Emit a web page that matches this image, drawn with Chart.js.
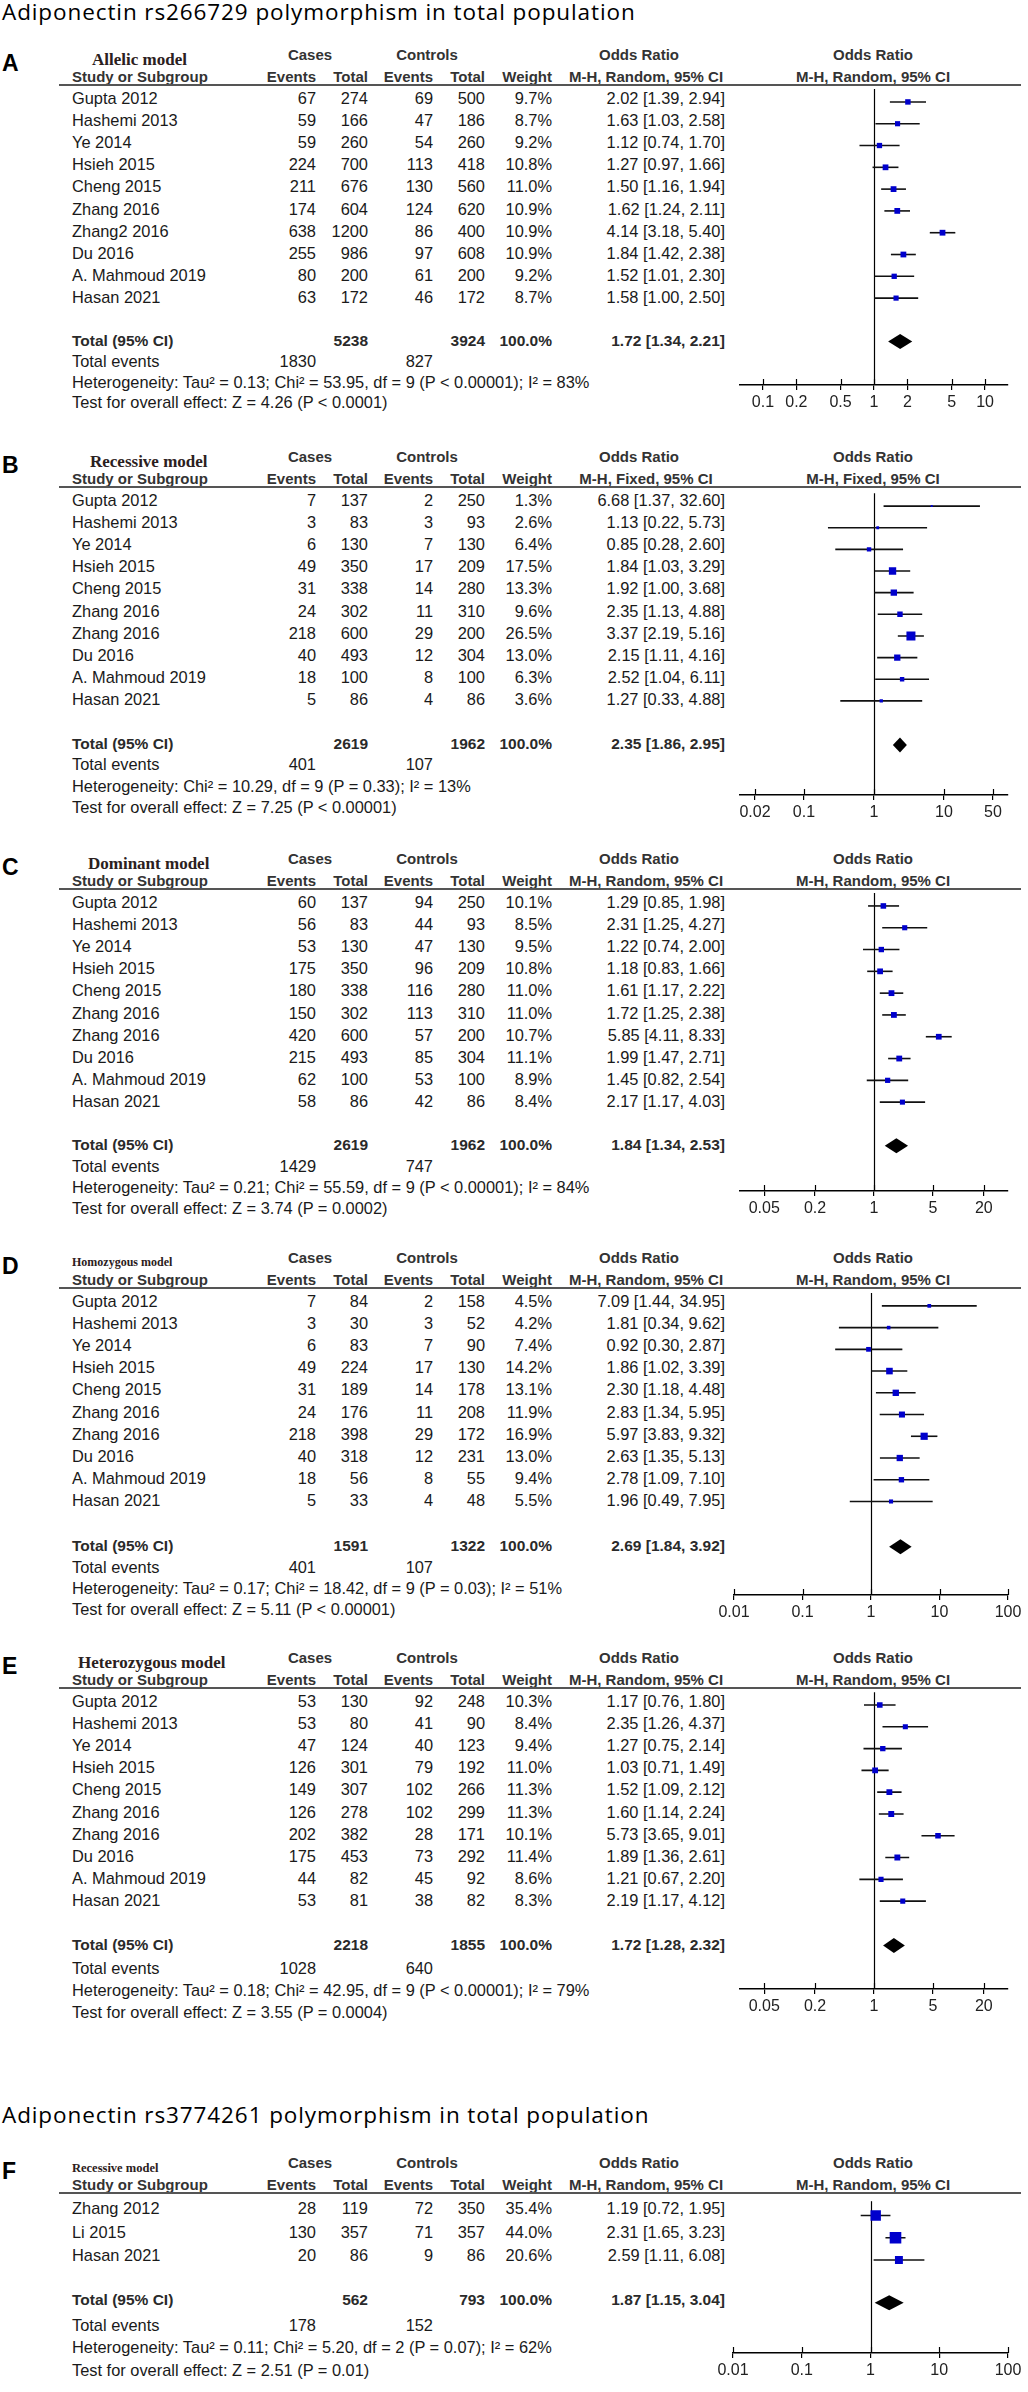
<!DOCTYPE html>
<html>
<head>
<meta charset="utf-8">
<script src="https://cdn.jsdelivr.net/npm/chart.js@4.4.1/dist/chart.umd.min.js"></script>
<style>
    html, body { margin: 0; padding: 0; background: #fff; }
    body { width: 1028px; height: 2392px; position: relative; overflow: hidden;
           font-family: "Liberation Sans", Arial, sans-serif; color: #1a1a1a; }
    .t { position: absolute; white-space: pre; line-height: 1.15; transform: translateY(-50%); }
    .r { text-align: right; width: 300px; }
    .c { text-align: center; width: 300px; }
    .h { font-weight: bold; font-size: 15px; color: #333; }
    .d { font-size: 16.4px; }
    .b { font-weight: bold; font-size: 15.5px; color: #2a2a2a; }
    .title { font-family: "Open Sans", sans-serif; font-size: 22.5px; letter-spacing: 0.9px; color: #000; }
    .letter { font-weight: bold; font-size: 23px; color: #000; }
    .model { font-family: "Liberation Serif", serif; font-weight: bold; color: #2b2020; }
    .rule { position: absolute; left: 59px; width: 962px; height: 2px; background: #555; }
    canvas.plot { position: absolute; left: 700px; }
</style>
</head>
<body>
<script>
// study labels
const studiesA = ["Gupta 2012", "Hashemi 2013", "Ye 2014", "Hsieh 2015", "Cheng 2015", "Zhang 2016", "Zhang2 2016", "Du 2016", "A. Mahmoud 2019", "Hasan 2021"];
const studiesBE = ["Gupta 2012", "Hashemi 2013", "Ye 2014", "Hsieh 2015", "Cheng 2015", "Zhang 2016", "Zhang 2016", "Du 2016", "A. Mahmoud 2019", "Hasan 2021"];
const studiesF = ["Zhang 2012", "Li 2015", "Hasan 2021"];

// A - allelic model
const aCaseEvents = [67, 59, 59, 224, 211, 174, 638, 255, 80, 63];
const aCaseTotal = [274, 166, 260, 700, 676, 604, 1200, 986, 200, 172];
const aCtrlEvents = [69, 47, 54, 113, 130, 124, 86, 97, 61, 46];
const aCtrlTotal = [500, 186, 260, 418, 560, 620, 400, 608, 200, 172];
const aWeight = [9.7, 8.7, 9.2, 10.8, 11.0, 10.9, 10.9, 10.9, 9.2, 8.7];
const aOR = [2.02, 1.63, 1.12, 1.27, 1.50, 1.62, 4.14, 1.84, 1.52, 1.58];
const aLow = [1.39, 1.03, 0.74, 0.97, 1.16, 1.24, 3.18, 1.42, 1.01, 1.00];
const aHigh = [2.94, 2.58, 1.70, 1.66, 1.94, 2.11, 5.40, 2.38, 2.30, 2.50];
const aTotals = [5238, 3924, 1830, 827];
const aPooled = [1.72, 1.34, 2.21];
const aTicks = [0.1, 0.2, 0.5, 1, 2, 5, 10];
const aHet = "Heterogeneity: Tau\u00b2 = 0.13; Chi\u00b2 = 53.95, df = 9 (P < 0.00001); I\u00b2 = 83%";
const aTest = "Test for overall effect: Z = 4.26 (P < 0.0001)";

// B - recessive model
const bCaseEvents = [7, 3, 6, 49, 31, 24, 218, 40, 18, 5];
const bCaseTotal = [137, 83, 130, 350, 338, 302, 600, 493, 100, 86];
const bCtrlEvents = [2, 3, 7, 17, 14, 11, 29, 12, 8, 4];
const bCtrlTotal = [250, 93, 130, 209, 280, 310, 200, 304, 100, 86];
const bWeight = [1.3, 2.6, 6.4, 17.5, 13.3, 9.6, 26.5, 13.0, 6.3, 3.6];
const bOR = [6.68, 1.13, 0.85, 1.84, 1.92, 2.35, 3.37, 2.15, 2.52, 1.27];
const bLow = [1.37, 0.22, 0.28, 1.03, 1.00, 1.13, 2.19, 1.11, 1.04, 0.33];
const bHigh = [32.60, 5.73, 2.60, 3.29, 3.68, 4.88, 5.16, 4.16, 6.11, 4.88];
const bTotals = [2619, 1962, 401, 107];
const bPooled = [2.35, 1.86, 2.95];
const bTicks = [0.02, 0.1, 1, 10, 50];
const bHet = "Heterogeneity: Chi\u00b2 = 10.29, df = 9 (P = 0.33); I\u00b2 = 13%";
const bTest = "Test for overall effect: Z = 7.25 (P < 0.00001)";

// C - dominant model
const cCaseEvents = [60, 56, 53, 175, 180, 150, 420, 215, 62, 58];
const cCaseTotal = [137, 83, 130, 350, 338, 302, 600, 493, 100, 86];
const cCtrlEvents = [94, 44, 47, 96, 116, 113, 57, 85, 53, 42];
const cCtrlTotal = [250, 93, 130, 209, 280, 310, 200, 304, 100, 86];
const cWeight = [10.1, 8.5, 9.5, 10.8, 11.0, 11.0, 10.7, 11.1, 8.9, 8.4];
const cOR = [1.29, 2.31, 1.22, 1.18, 1.61, 1.72, 5.85, 1.99, 1.45, 2.17];
const cLow = [0.85, 1.25, 0.74, 0.83, 1.17, 1.25, 4.11, 1.47, 0.82, 1.17];
const cHigh = [1.98, 4.27, 2.00, 1.66, 2.22, 2.38, 8.33, 2.71, 2.54, 4.03];
const cTotals = [2619, 1962, 1429, 747];
const cPooled = [1.84, 1.34, 2.53];
const cTicks = [0.05, 0.2, 1, 5, 20];
const cHet = "Heterogeneity: Tau\u00b2 = 0.21; Chi\u00b2 = 55.59, df = 9 (P < 0.00001); I\u00b2 = 84%";
const cTest = "Test for overall effect: Z = 3.74 (P = 0.0002)";

// D - homozygous model
const dCaseEvents = [7, 3, 6, 49, 31, 24, 218, 40, 18, 5];
const dCaseTotal = [84, 30, 83, 224, 189, 176, 398, 318, 56, 33];
const dCtrlEvents = [2, 3, 7, 17, 14, 11, 29, 12, 8, 4];
const dCtrlTotal = [158, 52, 90, 130, 178, 208, 172, 231, 55, 48];
const dWeight = [4.5, 4.2, 7.4, 14.2, 13.1, 11.9, 16.9, 13.0, 9.4, 5.5];
const dOR = [7.09, 1.81, 0.92, 1.86, 2.30, 2.83, 5.97, 2.63, 2.78, 1.96];
const dLow = [1.44, 0.34, 0.30, 1.02, 1.18, 1.34, 3.83, 1.35, 1.09, 0.49];
const dHigh = [34.95, 9.62, 2.87, 3.39, 4.48, 5.95, 9.32, 5.13, 7.10, 7.95];
const dTotals = [1591, 1322, 401, 107];
const dPooled = [2.69, 1.84, 3.92];
const dTicks = [0.01, 0.1, 1, 10, 100];
const dHet = "Heterogeneity: Tau\u00b2 = 0.17; Chi\u00b2 = 18.42, df = 9 (P = 0.03); I\u00b2 = 51%";
const dTest = "Test for overall effect: Z = 5.11 (P < 0.00001)";

// E - heterozygous model
const eCaseEvents = [53, 53, 47, 126, 149, 126, 202, 175, 44, 53];
const eCaseTotal = [130, 80, 124, 301, 307, 278, 382, 453, 82, 81];
const eCtrlEvents = [92, 41, 40, 79, 102, 102, 28, 73, 45, 38];
const eCtrlTotal = [248, 90, 123, 192, 266, 299, 171, 292, 92, 82];
const eWeight = [10.3, 8.4, 9.4, 11.0, 11.3, 11.3, 10.1, 11.4, 8.6, 8.3];
const eOR = [1.17, 2.35, 1.27, 1.03, 1.52, 1.60, 5.73, 1.89, 1.21, 2.19];
const eLow = [0.76, 1.26, 0.75, 0.71, 1.09, 1.14, 3.65, 1.36, 0.67, 1.17];
const eHigh = [1.80, 4.37, 2.14, 1.49, 2.12, 2.24, 9.01, 2.61, 2.20, 4.12];
const eTotals = [2218, 1855, 1028, 640];
const ePooled = [1.72, 1.28, 2.32];
const eTicks = [0.05, 0.2, 1, 5, 20];
const eHet = "Heterogeneity: Tau\u00b2 = 0.18; Chi\u00b2 = 42.95, df = 9 (P < 0.00001); I\u00b2 = 79%";
const eTest = "Test for overall effect: Z = 3.55 (P = 0.0004)";

// F - rs3774261 recessive model
const fCaseEvents = [28, 130, 20];
const fCaseTotal = [119, 357, 86];
const fCtrlEvents = [72, 71, 9];
const fCtrlTotal = [350, 357, 86];
const fWeight = [35.4, 44.0, 20.6];
const fOR = [1.19, 2.31, 2.59];
const fLow = [0.72, 1.65, 1.11];
const fHigh = [1.95, 3.23, 6.08];
const fTotals = [562, 793, 178, 152];
const fPooled = [1.87, 1.15, 3.04];
const fTicks = [0.01, 0.1, 1, 10, 100];
const fHet = "Heterogeneity: Tau\u00b2 = 0.11; Chi\u00b2 = 5.20, df = 2 (P = 0.07); I\u00b2 = 62%";
const fTest = "Test for overall effect: Z = 2.51 (P = 0.01)";

const titles = [
    "Adiponectin rs266729 polymorphism in total population",
    "Adiponectin rs3774261 polymorphism in total population",
];

const panels = [
    { letter: "A", model: "Allelic model", method: "Random", studies: studiesA, ce: aCaseEvents, ct: aCaseTotal, ke: aCtrlEvents, kt: aCtrlTotal, w: aWeight, or: aOR, lo: aLow, hi: aHigh, totals: aTotals, pooled: aPooled, ticks: aTicks, het: aHet, test: aTest },
    { letter: "B", model: "Recessive model", method: "Fixed", studies: studiesBE, ce: bCaseEvents, ct: bCaseTotal, ke: bCtrlEvents, kt: bCtrlTotal, w: bWeight, or: bOR, lo: bLow, hi: bHigh, totals: bTotals, pooled: bPooled, ticks: bTicks, het: bHet, test: bTest },
    { letter: "C", model: "Dominant model", method: "Random", studies: studiesBE, ce: cCaseEvents, ct: cCaseTotal, ke: cCtrlEvents, kt: cCtrlTotal, w: cWeight, or: cOR, lo: cLow, hi: cHigh, totals: cTotals, pooled: cPooled, ticks: cTicks, het: cHet, test: cTest },
    { letter: "D", model: "Homozygous model", method: "Random", studies: studiesBE, ce: dCaseEvents, ct: dCaseTotal, ke: dCtrlEvents, kt: dCtrlTotal, w: dWeight, or: dOR, lo: dLow, hi: dHigh, totals: dTotals, pooled: dPooled, ticks: dTicks, het: dHet, test: dTest },
    { letter: "E", model: "Heterozygous model", method: "Random", studies: studiesBE, ce: eCaseEvents, ct: eCaseTotal, ke: eCtrlEvents, kt: eCtrlTotal, w: eWeight, or: eOR, lo: eLow, hi: eHigh, totals: eTotals, pooled: ePooled, ticks: eTicks, het: eHet, test: eTest },
    { letter: "F", model: "Recessive model", method: "Random", studies: studiesF, ce: fCaseEvents, ct: fCaseTotal, ke: fCtrlEvents, kt: fCtrlTotal, w: fWeight, or: fOR, lo: fLow, hi: fHigh, totals: fTotals, pooled: fPooled, ticks: fTicks, het: fHet, test: fTest },
];

// page geometry, one entry per panel
const layouts = [
    { L: 85, row0: 98, step: 22.1, totalY: 341, eventsY: 361, hetY: 382, testY: 402, axisY: 385, left: 740, right: 1008, min: 0.0621, max: 16.1, modelX: 92, modelSize: 17 },
    { L: 487, row0: 500, step: 22.1, totalY: 744, eventsY: 764, hetY: 786, testY: 807, axisY: 795, left: 740, right: 1008, min: 0.0122, max: 82, modelX: 90, modelSize: 17 },
    { L: 889, row0: 902, step: 22.1, totalY: 1145, eventsY: 1166, hetY: 1187, testY: 1208, axisY: 1191, left: 740, right: 1008, min: 0.0258, max: 38.7, modelX: 88, modelSize: 17 },
    { L: 1288, row0: 1301, step: 22.1, totalY: 1546, eventsY: 1567, hetY: 1588, testY: 1609, axisY: 1595, left: 734, right: 1008, min: 0.01, max: 100, modelX: 72, modelSize: 12 },
    { L: 1688, row0: 1701, step: 22.1, totalY: 1945, eventsY: 1968, hetY: 1990, testY: 2012, axisY: 1989, left: 740, right: 1008, min: 0.0258, max: 38.7, modelX: 78, modelSize: 17 },
    { L: 2193, row0: 2208, step: 23.5, totalY: 2300, eventsY: 2325, hetY: 2347, testY: 2370, axisY: 2353, left: 733, right: 1008, min: 0.01, max: 100, modelX: 72, modelSize: 12.5 },
];
const titleY = [12, 2115];

function txt(str, x, y, cls, align) {
    const el = document.createElement("div");
    el.className = "t " + cls + (align === "r" ? " r" : align === "c" ? " c" : "");
    el.textContent = str;
    const left = align === "r" ? x - 300 : align === "c" ? x - 150 : x;
    el.style.left = left + "px";
    el.style.top = y + "px";
    document.body.appendChild(el);
    return el;
}

const fmt = (v) => v.toFixed(2);
const ciText = (o, l, h) => `${fmt(o)} [${fmt(l)}, ${fmt(h)}]`;

titles.forEach((t, i) => txt(t, 2, titleY[i], "title"));

function makeForest(p, lay) {
    const totalRow = (lay.totalY - lay.row0) / lay.step;
    return {
        id: "forest",
        beforeDatasetsDraw(chart) {
            const { ctx, chartArea: a, scales: { x, y } } = chart;
            ctx.save();
            // line of no effect
            const x1 = Math.round(x.getPixelForValue(1)) + 0.5;
            ctx.strokeStyle = "#000";
            ctx.lineWidth = 1.2;
            ctx.beginPath();
            ctx.moveTo(x1, a.top);
            ctx.lineTo(x1, a.bottom);
            ctx.stroke();

            ctx.beginPath();
            ctx.rect(a.left, a.top, a.width, a.height);
            ctx.clip();
            ctx.strokeStyle = "#111";
            ctx.lineWidth = 1.6;
            p.lo.forEach((lo, i) => {
                const yy = y.getPixelForValue(i);
                ctx.beginPath();
                ctx.moveTo(x.getPixelForValue(lo), yy);
                ctx.lineTo(x.getPixelForValue(p.hi[i]), yy);
                ctx.stroke();
            });

            // pooled estimate diamond
            const [or, lo, hi] = p.pooled;
            const yd = y.getPixelForValue(totalRow);
            ctx.fillStyle = "#000";
            ctx.beginPath();
            ctx.moveTo(x.getPixelForValue(lo), yd);
            ctx.lineTo(x.getPixelForValue(or), yd - 7.5);
            ctx.lineTo(x.getPixelForValue(hi), yd);
            ctx.lineTo(x.getPixelForValue(or), yd + 7.5);
            ctx.closePath();
            ctx.fill();
            ctx.restore();
        },
        afterDraw(chart) {
            // upper half of the crossing tick marks
            const { ctx, chartArea: a, scales: { x } } = chart;
            ctx.save();
            ctx.strokeStyle = "#000";
            ctx.lineWidth = 1.2;
            x.ticks.forEach((t) => {
                const px = Math.round(x.getPixelForValue(t.value)) + 0.5;
                ctx.beginPath();
                ctx.moveTo(px, a.bottom - 6);
                ctx.lineTo(px, a.bottom);
                ctx.stroke();
            });
            ctx.restore();
        },
    };
}

panels.forEach((p, k) => {
    const lay = layouts[k];
    const L = lay.L;

    txt(p.letter, 2, L - 22, "letter");
    const m = txt(p.model, lay.modelX, L - 25, "model");
    m.style.fontSize = lay.modelSize + "px";

    txt("Cases", 310, L - 30, "h", "c");
    txt("Controls", 427, L - 30, "h", "c");
    txt("Odds Ratio", 639, L - 30, "h", "c");
    txt("Odds Ratio", 873, L - 30, "h", "c");

    const sub = L - 8;
    txt("Study or Subgroup", 72, sub, "h");
    txt("Events", 316, sub, "h", "r");
    txt("Total", 368, sub, "h", "r");
    txt("Events", 433, sub, "h", "r");
    txt("Total", 485, sub, "h", "r");
    txt("Weight", 552, sub, "h", "r");
    txt(`M-H, ${p.method}, 95% CI`, 646, sub, "h", "c");
    txt(`M-H, ${p.method}, 95% CI`, 873, sub, "h", "c");

    const rule = document.createElement("div");
    rule.className = "rule";
    rule.style.top = (L - 1) + "px";
    document.body.appendChild(rule);

    p.studies.forEach((s, i) => {
        const y = lay.row0 + i * lay.step;
        txt(s, 72, y, "d");
        txt(String(p.ce[i]), 316, y, "d", "r");
        txt(String(p.ct[i]), 368, y, "d", "r");
        txt(String(p.ke[i]), 433, y, "d", "r");
        txt(String(p.kt[i]), 485, y, "d", "r");
        txt(p.w[i].toFixed(1) + "%", 552, y, "d", "r");
        txt(ciText(p.or[i], p.lo[i], p.hi[i]), 725, y, "d", "r");
    });

    txt("Total (95% CI)", 72, lay.totalY, "b");
    txt(String(p.totals[0]), 368, lay.totalY, "b", "r");
    txt(String(p.totals[1]), 485, lay.totalY, "b", "r");
    txt("100.0%", 552, lay.totalY, "b", "r");
    txt(ciText(...p.pooled), 725, lay.totalY, "b", "r");

    txt("Total events", 72, lay.eventsY, "d");
    txt(String(p.totals[2]), 316, lay.eventsY, "d", "r");
    txt(String(p.totals[3]), 433, lay.eventsY, "d", "r");
    txt(p.het, 72, lay.hetY, "d");
    txt(p.test, 72, lay.testY, "d");

    // forest plot
    const axisH = 28;
    const cw = 325;
    const ch = lay.axisY - L + axisH;
    const canvas = document.createElement("canvas");
    canvas.className = "plot";
    canvas.width = cw;
    canvas.height = ch;
    canvas.style.width = cw + "px";
    canvas.style.height = ch + "px";
    canvas.style.top = L + "px";
    document.body.appendChild(canvas);

    const yMin = -(lay.row0 - L) / lay.step;
    const yMax = (lay.axisY - lay.row0) / lay.step;
    const radii = p.w.map((w) => (1.75 * Math.sqrt(w)) / Math.SQRT2);

    new Chart(canvas, {
        type: "scatter",
        data: {
            datasets: [
                {
                    data: p.or.map((v, i) => ({ x: v, y: i })),
                    pointStyle: "rect",
                    pointRadius: radii,
                    pointHoverRadius: radii,
                    backgroundColor: "#0000cc",
                    borderWidth: 0,
                },
            ],
        },
        options: {
            responsive: false,
            animation: false,
            events: [],
            layout: { padding: { left: lay.left - 700, right: 700 + cw - lay.right, top: 0, bottom: 0 } },
            plugins: { legend: { display: false }, tooltip: { enabled: false } },
            scales: {
                x: {
                    type: "logarithmic",
                    min: lay.min,
                    max: lay.max,
                    afterBuildTicks(scale) {
                        scale.ticks = p.ticks.map((v) => ({ value: v }));
                    },
                    afterFit(scale) {
                        scale.height = axisH;
                    },
                    ticks: {
                        autoSkip: false,
                        maxRotation: 0,
                        padding: 3,
                        color: "#222",
                        font: { family: "Liberation Sans", size: 16 },
                        callback: (v) => String(v),
                    },
                    grid: { drawOnChartArea: false, drawTicks: true, tickLength: 5, color: "#000", lineWidth: 1.2 },
                    border: { display: true, color: "#000", width: 1.5 },
                },
                y: { type: "linear", display: false, reverse: true, min: yMin, max: yMax },
            },
        },
        plugins: [makeForest(p, lay)],
    });
});
</script>
</body>
</html>
